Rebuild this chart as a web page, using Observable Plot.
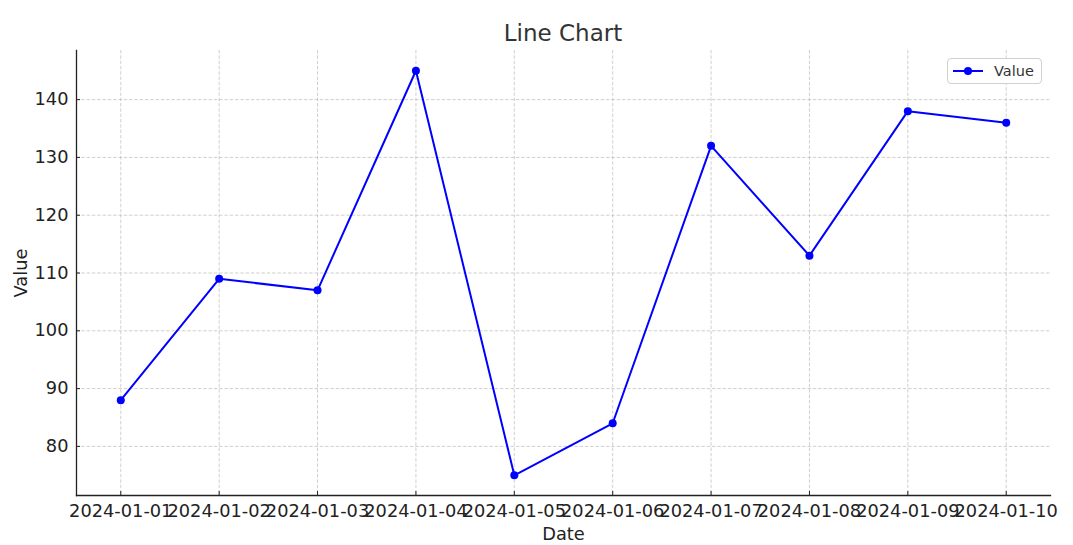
<!DOCTYPE html>
<html>
<head>
<meta charset="utf-8">
<script src="https://cdn.jsdelivr.net/npm/d3@7"></script>
<script src="https://cdn.jsdelivr.net/npm/@observablehq/plot@0.6"></script>
<style>
  body { margin: 0; background: #fff; font-family: "DejaVu Sans", sans-serif; }
  #wrap { position: relative; width: 1073px; height: 545px; }
  #title { height: 50px; width: 974px; padding-left: 76px; text-align: center; font-size: 23px; color: #333; line-height: 67px; box-sizing: content-box; }
  #legend { position: absolute; left: 947px; top: 58px; width: 95px; height: 26px; border: 1px solid #d0d0d0; border-radius: 4px; background: #fff; box-sizing: border-box; display: flex; align-items: center; font-size: 14.5px; color: #333; }
  #legend svg { margin-left: 4px; margin-right: 10px; }
</style>
</head>
<body>
<div id="wrap">
  <div id="title">Line Chart</div>
  <div id="chart"></div>
  <div id="legend"><svg width="32" height="10"><line x1="1" y1="5" x2="31" y2="5" stroke="#0000ff" stroke-width="2"/><circle cx="16" cy="5" r="4" fill="#0000ff"/></svg><span>Value</span></div>
</div>
<script>
const dateLabels = ["2024-01-01","2024-01-02","2024-01-03","2024-01-04","2024-01-05","2024-01-06","2024-01-07","2024-01-08","2024-01-09","2024-01-10"];
const values = [88, 109, 107, 145, 75, 84, 132, 113, 138, 136];
const yTicks = [80, 90, 100, 110, 120, 130, 140];

const parse = d3.utcParse("%Y-%m-%d");
const dates = dateLabels.map(parse);
const data = dates.map((d, i) => ({date: d, value: values[i]}));

const span = dates[dates.length - 1] - dates[0];
const xDomain = [new Date(+dates[0] - 0.05 * span), new Date(+dates[dates.length - 1] + 0.05 * span)];
const vmin = d3.min(values), vmax = d3.max(values);
const yDomain = [vmin - 0.05 * (vmax - vmin), vmax + 0.05 * (vmax - vmin)];

const gridStyle = {stroke: "#b0b0b0", strokeOpacity: 0.75, strokeWidth: 0.8, strokeDasharray: "3.5,1.8"};
const yTickLen = 4 * (yDomain[1] - yDomain[0]) / 445;
const xTickLen = 4 * (xDomain[1] - xDomain[0]) / 974;

const chart = Plot.plot({
  width: 1073,
  height: 495,
  marginLeft: 76,
  marginRight: 23,
  marginTop: 0,
  marginBottom: 50,
  style: {fontFamily: "DejaVu Sans, sans-serif", fontSize: "17.8px", color: "#222", background: "#fff", overflow: "visible"},
  x: {type: "utc", domain: xDomain},
  y: {domain: yDomain},
  marks: [
    Plot.gridX(dates, gridStyle),
    Plot.gridY(yTicks, gridStyle),
    Plot.axisX(dates, {tickFormat: d3.utcFormat("%Y-%m-%d"), tickSize: 0, tickPadding: 9, label: "Date", labelAnchor: "center", labelArrow: "none", labelOffset: 44, fill: "#222"}),
    Plot.axisY(yTicks, {tickSize: 0, tickPadding: 8, label: "Value", labelAnchor: "center", labelArrow: "none", labelOffset: 62, fill: "#222"}),
    Plot.ruleX(dates, {x: d => d, y1: yDomain[0], y2: yDomain[0] + yTickLen, stroke: "#222", strokeWidth: 1}),
    Plot.ruleY(yTicks, {y: d => d, x1: xDomain[0], x2: new Date(+xDomain[0] + xTickLen), stroke: "#222", strokeWidth: 1}),
    Plot.frame({anchor: "left", stroke: "#222", strokeWidth: 1.3}),
    Plot.frame({anchor: "bottom", stroke: "#222", strokeWidth: 1.3}),
    Plot.line(data, {x: "date", y: "value", stroke: "#0000ff", strokeWidth: 2}),
    Plot.dot(data, {x: "date", y: "value", fill: "#0000ff", r: 4})
  ]
});
document.getElementById("chart").appendChild(chart);
</script>
</body>
</html>
